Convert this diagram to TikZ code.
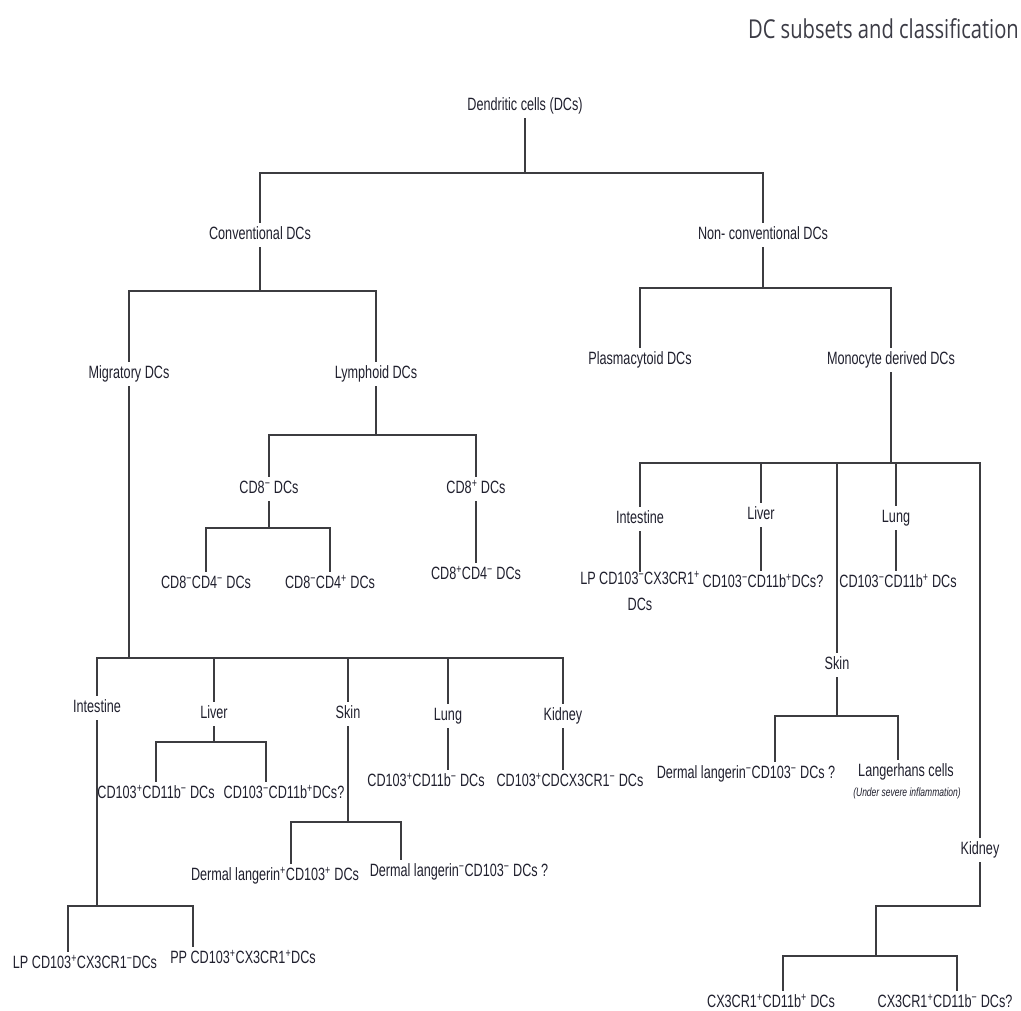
\documentclass[tikz,border=0pt]{standalone}
\usepackage{fontspec}
\newfontfamily\lbfamily{Liberation Sans}[FakeStretch=0.71]
\newfontfamily\ttlfamily{Open Sans}[FakeStretch=0.775]
\newcommand\sPl{\textsuperscript{+}}
\newcommand\sMi{\textsuperscript{−}}
\definecolor{txt}{RGB}{32,32,46}
\definecolor{linec}{RGB}{60,60,64}
\definecolor{ttlc}{RGB}{60,60,70}
\tikzset{
  lbl/.style={inner xsep=0pt, inner ysep=4pt, outer sep=0pt, text=txt,
    font=\lbfamily\fontsize{17.8}{26}\selectfont, text height=12.8pt, text depth=3.9pt, yshift=-1.9pt},
  lblml/.style={inner xsep=0pt, inner ysep=0pt, outer sep=0pt, text=txt, align=center,
    font=\lbfamily\fontsize{17.8}{26}\selectfont},
  note/.style={inner sep=0pt, text=txt, font=\lbfamily\itshape\fontsize{12}{14}\selectfont},
  ttl/.style={inner sep=0pt, text=ttlc, font=\ttlfamily\fontsize{26}{30}\selectfont},
  ln/.style={draw=linec, line width=1.4pt, line cap=rect}
}
\begin{document}
\begin{tikzpicture}[x=1pt,y=-1pt]
\useasboundingbox[fill=white] (0,0) rectangle (1021,1011);
% title
\node[ttl, anchor=base east] (title) at (1019,39) {DC subsets and classification};
% level 0-2
\node[lbl] (root) at (525,104) {Dendritic cells (DCs)};
\node[lbl] (conv) at (260,233) {Conventional DCs};
\node[lbl] (nonconv) at (763,233) {Non- conventional DCs};
\node[lbl] (mig) at (129,372) {Migratory DCs};
\node[lbl] (lym) at (376,372) {Lymphoid DCs};
\node[lbl] (plasma) at (640,358) {Plasmacytoid DCs};
\node[lbl] (mono) at (891,358) {Monocyte derived DCs};
% lymphoid branch
\node[lbl] (cd8m) at (269,487) {CD8\sMi{} DCs};
\node[lbl] (cd8p) at (476,487) {CD8\sPl{} DCs};
\node[lbl] (cd8m4m) at (206,582) {CD8\sMi CD4\sMi{} DCs};
\node[lbl] (cd8m4p) at (330,582) {CD8\sMi CD4\sPl{} DCs};
\node[lbl] (cd8p4m) at (476,573) {CD8\sPl CD4\sMi{} DCs};
% migratory organs
\node[lbl] (intL) at (97,706) {Intestine};
\node[lbl] (livL) at (214,712) {Liver};
\node[lbl] (skinL) at (348,712) {Skin};
\node[lbl] (lungL) at (448,714) {Lung};
\node[lbl] (kidL) at (563,714) {Kidney};
\node[lbl] (lv1) at (156,792) {CD103\sPl CD11b\sMi{} DCs};
\node[lbl] (lv2) at (284,792) {CD103\sMi CD11b\sPl DCs?};
\node[lbl] (sk1) at (275,874) {Dermal langerin\sPl CD103\sPl{} DCs};
\node[lbl] (sk2) at (459,870) {Dermal langerin\sMi CD103\sMi{} DCs ?};
\node[lbl] (lu1) at (426,780) {CD103\sPl CD11b\sMi{} DCs};
\node[lbl] (kd1) at (570,780) {CD103\sPl CDCX3CR1\sMi{} DCs};
\node[lbl] (in1) at (85,962) {LP CD103\sPl CX3CR1\sMi DCs};
\node[lbl] (in2) at (243,957) {PP CD103\sPl CX3CR1\sPl DCs};
% monocyte derived organs
\node[lbl] (rInt) at (640,517) {Intestine};
\node[lbl] (rLiv) at (761,513) {Liver};
\node[lbl] (rLung) at (896,516) {Lung};
\node[lbl] (rSkin) at (837,663) {Skin};
\node[lbl] (rKid) at (980,848) {Kidney};
\node[lblml, anchor=north] (ri1) at (640,571) {LP CD103\sMi CX3CR1\sPl\\DCs};
\node[lbl] (rl1) at (763,581) {CD103\sMi CD11b\sPl DCs?};
\node[lbl] (rg1) at (898,581) {CD103\sMi CD11b\sPl{} DCs};
\node[lbl] (rs1) at (746,772) {Dermal langerin\sMi CD103\sMi{} DCs ?};
\node[lbl] (rs2) at (906,770) {Langerhans cells};
\node[note] (rs2n) at (907,793) {(Under severe inflammation)};
\node[lbl] (rk1) at (771,1001) {CX3CR1\sPl CD11b\sPl{} DCs};
\node[lbl] (rk2) at (945,1001) {CX3CR1\sPl CD11b\sMi{} DCs?};
% junctions
\coordinate (b1) at (525,173);
\coordinate (b2) at (260,291);
\coordinate (b3) at (763,288);
\coordinate (b4) at (376,435);
\coordinate (b5) at (269,528);
\coordinate (b6) at (129,658);
\coordinate (b7) at (214,742);
\coordinate (b8) at (348,822);
\coordinate (b9) at (97,906);
\coordinate (b10) at (891,463);
\coordinate (b11) at (837,716);
\coordinate (kk) at (876,906);
\coordinate (b12) at (876,956);
% connectors
\draw[ln] (root.south) -- (b1);
\draw[ln] (conv.north) |- (b1) -| (nonconv.north);
\draw[ln] (conv.south) -- (b2);
\draw[ln] (mig.north) |- (b2) -| (lym.north);
\draw[ln] (nonconv.south) -- (b3);
\draw[ln] (plasma.north) |- (b3) -| (mono.north);
\draw[ln] (lym.south) -- (b4);
\draw[ln] (cd8m.north) |- (b4) -| (cd8p.north);
\draw[ln] (cd8m.south) -- (b5);
\draw[ln] (cd8m4m.north) |- (b5) -| (cd8m4p.north);
\draw[ln] (cd8p.south) -- (cd8p4m.north);
\draw[ln] (mig.south) -- (b6);
\draw[ln] (intL.north) |- (b6) -| (kidL.north);
\draw[ln] (livL.north) -- (livL.north |- b6);
\draw[ln] (skinL.north) -- (skinL.north |- b6);
\draw[ln] (lungL.north) -- (lungL.north |- b6);
\draw[ln] (livL.south) -- (b7);
\draw[ln] (lv1.north) |- (b7) -| ([xshift=-18pt]lv2.north);
\draw[ln] (skinL.south) -- (b8);
\draw[ln] ([xshift=16pt]sk1.north) |- (b8) -| ([xshift=-58pt]sk2.north);
\draw[ln] (lungL.south) -- ([xshift=22pt]lu1.north);
\draw[ln] (kidL.south) -- ([xshift=-7pt]kd1.north);
\draw[ln] (intL.south) -- (b9);
\draw[ln] ([xshift=-17pt]in1.north) |- (b9) -| ([xshift=-50pt]in2.north);
\draw[ln] (mono.south) -- (b10);
\draw[ln] (rInt.north) |- (b10) -| (rKid.north);
\draw[ln] (rLiv.north) -- (rLiv.north |- b10);
\draw[ln] (rSkin.north) -- (rSkin.north |- b10);
\draw[ln] (rLung.north) -- (rLung.north |- b10);
\draw[ln] (rInt.south) -- (ri1.north);
\draw[ln] (rLiv.south) -- ([xshift=-2pt]rl1.north);
\draw[ln] (rLung.south) -- ([xshift=-2pt]rg1.north);
\draw[ln] (rSkin.south) -- (b11);
\draw[ln] ([xshift=29pt]rs1.north) |- (b11) -| ([xshift=-8pt]rs2.north);
\draw[ln] (rKid.south) |- (kk) -- (b12);
\draw[ln] ([xshift=12pt]rk1.north) |- (b12) -| ([xshift=12pt]rk2.north);
\end{tikzpicture}
\end{document}
